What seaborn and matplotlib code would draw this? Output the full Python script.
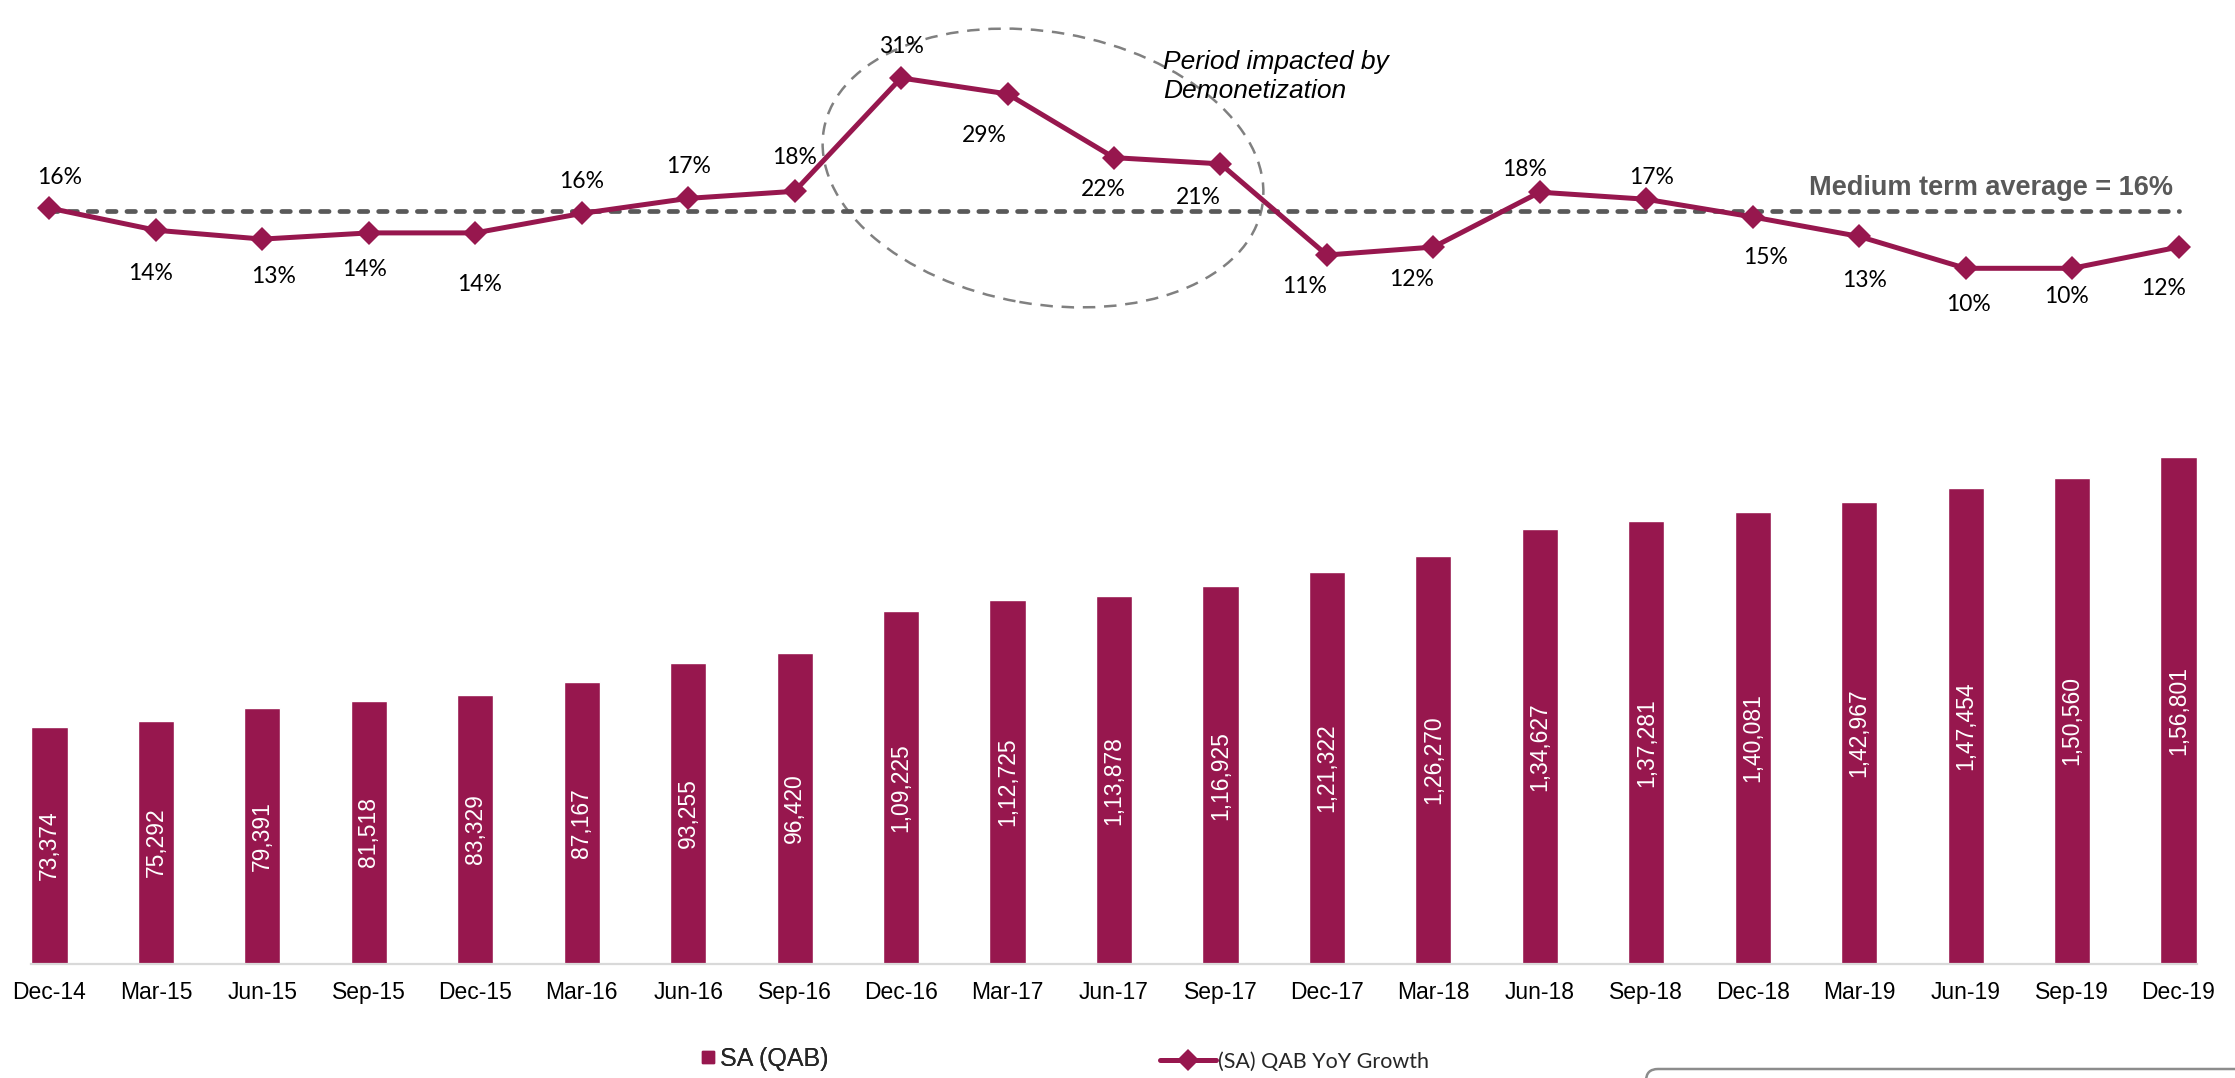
import matplotlib
matplotlib.use("Agg")
import matplotlib.pyplot as plt
from matplotlib.patches import Ellipse, FancyBboxPatch
from matplotlib.lines import Line2D
import seaborn as sns
import pandas as pd

# Quarterly savings account balances (SA, QAB) and their year-on-year growth
quarters = ["Dec-14", "Mar-15", "Jun-15", "Sep-15", "Dec-15", "Mar-16", "Jun-16",
            "Sep-16", "Dec-16", "Mar-17", "Jun-17", "Sep-17", "Dec-17", "Mar-18",
            "Jun-18", "Sep-18", "Dec-18", "Mar-19", "Jun-19", "Sep-19", "Dec-19"]
sa_qab = [73374, 75292, 79391, 81518, 83329, 87167, 93255, 96420, 109225, 112725,
          113878, 116925, 121322, 126270, 134627, 137281, 140081, 142967, 147454,
          150560, 156801]
yoy_growth = [16.3, 13.8, 12.8, 13.5, 13.5, 15.7, 17.4, 18.2, 31.0, 29.2, 22.0,
              21.3, 11.0, 11.9, 18.1, 17.3, 15.3, 13.1, 9.5, 9.5, 11.9]
medium_term_avg = 16

# offsets (points) of each growth label relative to its marker
label_offsets = [(7, 22), (-4, -31), (8, -27), (-3, -26), (3, -37), (0, 23), (0, 23),
                 (0, 24), (0, 23), (-17, -30), (-8, -23), (-16, -24), (-16, -23),
                 (-16, -23), (-11, 16), (4, 16), (9, -29), (4, -32), (2, -26),
                 (-4, -20), (-11, -30)]

MAROON = "#97174E"
GREY = "#595959"

sns.set_style("white")
plt.rcParams["font.family"] = ["Liberation Sans", "DejaVu Sans"]


def indian_format(n):
    s = str(int(n))
    if len(s) <= 3:
        return s
    head, tail = s[:-3], s[-3:]
    groups = []
    while len(head) > 2:
        groups.insert(0, head[-2:])
        head = head[:-2]
    if head:
        groups.insert(0, head)
    return ",".join(groups + [tail])


df = pd.DataFrame({"quarter": quarters, "sa": sa_qab,
                   "idx": range(len(quarters)), "yoy": yoy_growth})

W, H = 2235, 1078
fig = plt.figure(figsize=(W / 100, H / 100), dpi=100)

left = 31.4 / W
width = (2196.6 - 31.4) / W
xlim = (-0.17, len(quarters) - 1 + 0.17)

# --- bars ---
ax_bar = fig.add_axes([left, (H - 964) / H, width, 564 / H])
sns.barplot(data=df, x="quarter", y="sa", color=MAROON, saturation=1,
            width=0.34, ax=ax_bar, errorbar=None)
ax_bar.set_xlim(*xlim)
ax_bar.set_ylim(0, 174600)
ax_bar.set_xlabel("")
ax_bar.set_ylabel("")
ax_bar.set_yticks([])
for s in ["top", "right", "left"]:
    ax_bar.spines[s].set_visible(False)
ax_bar.spines["bottom"].set_color("#d9d9d9")
ax_bar.spines["bottom"].set_linewidth(1.6)
ax_bar.tick_params(axis="x", which="major", length=0, pad=12, labelsize=16.5,
                   labelcolor="black")
ax_bar.set_xticks(range(len(quarters)), quarters)
ax_bar.set_xticks([i - 0.17 for i in range(len(quarters))], minor=True)
ax_bar.tick_params(axis="x", which="minor", length=8, width=1.4, color="#d9d9d9")

for patch, val in zip(ax_bar.patches, sa_qab):
    cx = patch.get_x() + patch.get_width() / 2
    ax_bar.text(cx, val / 2, indian_format(val), rotation=90, ha="center",
                va="center", color="white", fontsize=16.5)

# --- growth line ---
ax_line = fig.add_axes([left, (H - 300) / H, width, 260 / H])
ax_line.patch.set_visible(False)
ax_line.hlines(medium_term_avg, 0, len(quarters) - 1, colors=GREY,
               linestyles=(0, (1.8, 2.3)), linewidth=3.4, zorder=1,
               capstyle="round")
sns.lineplot(data=df, x="idx", y="yoy", color=MAROON, linewidth=3.6,
             marker="D", markersize=12, markeredgewidth=0, ax=ax_line, zorder=3)
ax_line.set_xlim(*xlim)
ax_line.set_ylim(5.92, 35.29)
ax_line.axis("off")

for i, (v, off) in enumerate(zip(yoy_growth, label_offsets)):
    ax_line.annotate(f"{v:.0f}%", (i, v), xytext=off, textcoords="offset points",
                     ha="center", va="center", fontsize=16.5, color="black",
                     family=["Lato", "DejaVu Sans"])

ax_line.text(19.95, 18.6, "Medium term average = 16%", ha="right", va="center",
             fontsize=19.5, fontweight="bold", color=GREY)
ax_line.text(10.46, 31.2, "Period impacted by\nDemonetization", ha="left",
             va="center", fontsize=19, fontstyle="italic", color="black",
             linespacing=1.25)

# dashed ellipse marking the demonetization period
ell = Ellipse((10.43, (H - 168) / 100), 4.45, 2.72, angle=-10, fill=False,
              edgecolor="#808080", linewidth=1.8, linestyle=(0, (5, 3.5)),
              transform=fig.dpi_scale_trans, zorder=0)
fig.add_artist(ell)

# --- legend ---
bar_handle = Line2D([], [], marker="s", linestyle="none", color=MAROON,
                    markersize=9)
line_handle = Line2D([], [], marker="D", color=MAROON, linewidth=3.6,
                     markersize=11, markeredgewidth=0)
leg1 = fig.legend([bar_handle], ["SA (QAB)"], loc="center left",
                  bbox_to_anchor=(700 / W, (H - 1059) / H), frameon=False,
                  handlelength=0.6, handletextpad=0.2,
                  borderpad=0, borderaxespad=0,
                  prop={"family": ["Liberation Sans Narrow", "Liberation Sans"],
                        "size": 18})
fig.add_artist(leg1)
fig.legend([line_handle], ["(SA) QAB YoY Growth"], loc="center left",
           bbox_to_anchor=(1160 / W, (H - 1062) / H), frameon=False,
           handlelength=2.6, handletextpad=0.1,
           borderpad=0, borderaxespad=0,
           prop={"family": ["Lato", "DejaVu Sans"], "size": 15.5})

# rounded panel edge at the lower right
box = FancyBboxPatch((16.46, -1.0), 8.0, 1.09,
                     boxstyle="round,pad=0,rounding_size=0.12",
                     fill=False, edgecolor="#8c8c8c", linewidth=1.8,
                     transform=fig.dpi_scale_trans)
fig.add_artist(box)

fig.savefig("out.png", dpi=100, facecolor="white")
